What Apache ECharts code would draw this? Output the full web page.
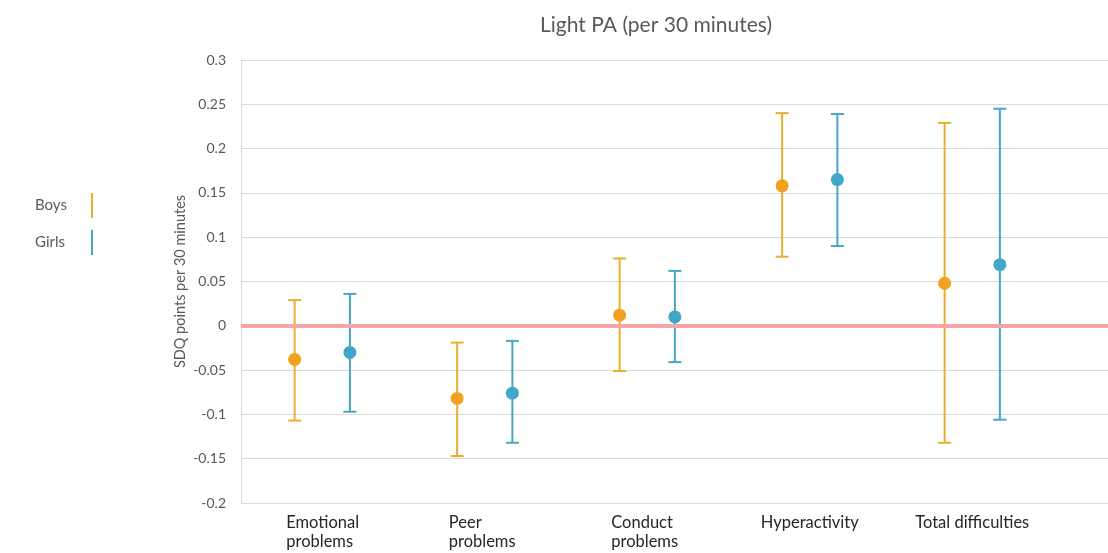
<!DOCTYPE html>
<html>
<head>
<meta charset="utf-8">
<script src="https://cdn.jsdelivr.net/npm/echarts@6/dist/echarts.min.js"></script>
<style>
  html, body { margin: 0; padding: 0; background: #fff; }
  #main { width: 1108px; height: 553px; }
</style>
</head>
<body>
<div id="main"></div>
<script>
// categories on the x axis (an empty slot is added after them, the plot runs past the picture edge)
var categories = ['Emotional\nproblems', 'Peer\nproblems', 'Conduct\nproblems', 'Hyperactivity', 'Total difficulties'];
var yTicks = [-0.2, -0.15, -0.1, -0.05, 0, 0.05, 0.1, 0.15, 0.2, 0.25, 0.3];

// estimates with 95% CI
var boysMean = [-0.038, -0.082, 0.012, 0.158, 0.048];
var boysLow  = [-0.107, -0.147, -0.051, 0.078, -0.132];
var boysHigh = [0.029, -0.019, 0.076, 0.240, 0.229];

var girlsMean = [-0.030, -0.076, 0.010, 0.165, 0.069];
var girlsLow  = [-0.097, -0.132, -0.041, 0.090, -0.106];
var girlsHigh = [0.036, -0.017, 0.062, 0.239, 0.245];

var FONT = 'Lato, "Open Sans", sans-serif';

function toData(mean, low, high) {
    var out = [];
    for (var i = 0; i < mean.length; i++) {
        out.push([i, mean[i], low[i], high[i]]);
    }
    return out;
}

// draws one whisker + dot, shifted inside the category band
function errorBar(shift, barColor, dotColor) {
    return function (params, api) {
        var band = api.size([1, 0])[0];
        var x = api.coord([api.value(0), 0])[0] + shift * band;
        var yMid = api.coord([api.value(0), api.value(1)])[1];
        var yLow = api.coord([api.value(0), api.value(2)])[1];
        var yHigh = api.coord([api.value(0), api.value(3)])[1];
        var cap = 6.5;
        var ls = { stroke: barColor, lineWidth: 2 };
        return {
            type: 'group',
            children: [
                { type: 'line', shape: { x1: x, y1: yHigh, x2: x, y2: yLow }, style: ls },
                { type: 'line', shape: { x1: x - cap, y1: yHigh, x2: x + cap, y2: yHigh }, style: ls },
                { type: 'line', shape: { x1: x - cap, y1: yLow, x2: x + cap, y2: yLow }, style: ls },
                { type: 'circle', shape: { cx: x, cy: yMid, r: 6.5 }, style: { fill: dotColor } }
            ]
        };
    };
}

// two-line labels: lines left aligned inside a centred block
function catLabel(v) {
    if (v.indexOf('\n') < 0) return v;
    var parts = v.split('\n');
    return '{l|' + parts[0] + '}\n{l|' + parts[1] + '}';
}

var myChart = echarts.init(document.getElementById('main'));

var option = {
    backgroundColor: '#fff',
    animation: false,
    title: {
        text: 'Light PA (per 30 minutes)',
        left: 651,
        textAlign: 'center',
        top: 10,
        textStyle: { fontFamily: FONT, fontSize: 21, fontWeight: 'normal', color: '#595959' }
    },
    legend: {
        data: ['Boys', 'Girls'],
        orient: 'vertical',
        left: 30,
        top: 188,
        align: 'right',
        icon: 'rect',
        itemWidth: 2,
        itemHeight: 25,
        itemGap: 12,
        formatter: function (name) { return '{t|' + name + '}'; },
        textStyle: {
            fontFamily: FONT, fontSize: 15, color: '#595959',
            rich: { t: { width: 51, align: 'left', fontFamily: FONT, fontSize: 15, color: '#595959' } }
        }
    },
    grid: {
        left: 241,
        top: 60,
        width: 975,
        bottom: 50,
        outerBoundsMode: 'none'
    },
    xAxis: {
        type: 'category',
        data: categories.concat(['']),
        boundaryGap: true,
        axisLine: { show: true, lineStyle: { color: '#d9d9d9', width: 1 } },
        axisTick: { show: false },
        axisLabel: {
            interval: 0,
            margin: 10,
            fontFamily: FONT,
            fontSize: 16.5,
            lineHeight: 19,
            color: '#262626',
            formatter: catLabel,
            rich: {
                l: { width: 72, align: 'left', fontFamily: FONT, fontSize: 16.5, lineHeight: 19, color: '#262626' }
            }
        }
    },
    yAxis: {
        type: 'value',
        min: yTicks[0],
        max: yTicks[yTicks.length - 1],
        interval: 0.05,
        name: 'SDQ points per 30 minutes',
        nameLocation: 'middle',
        nameGap: 53,
        nameMoveOverlap: false,
        nameTextStyle: { fontFamily: FONT, fontSize: 14.5, color: '#595959' },
        axisLine: { show: true, lineStyle: { color: '#d9d9d9', width: 1 } },
        axisTick: { show: false },
        axisLabel: {
            margin: 15,
            fontFamily: FONT,
            fontSize: 14,
            color: '#595959',
            formatter: function (v) { return String(Math.round(v * 100) / 100); }
        },
        splitLine: { lineStyle: { color: '#d9d9d9', width: 1 } }
    },
    series: [
        {
            // zero reference line, kept under the whiskers
            type: 'line',
            data: [],
            z: 1,
            silent: true,
            markLine: {
                silent: true,
                symbol: 'none',
                label: { show: false },
                lineStyle: { color: '#f4a6a6', width: 4, type: 'solid' },
                data: [{ yAxis: 0 }]
            }
        },
        {
            name: 'Boys',
            type: 'custom',
            z: 3,
            itemStyle: { color: '#e8ae2e' },
            renderItem: errorBar(-0.17, '#e8ae2e', '#f2a11f'),
            encode: { x: 0, y: [1, 2, 3] },
            data: toData(boysMean, boysLow, boysHigh)
        },
        {
            name: 'Girls',
            type: 'custom',
            z: 3,
            itemStyle: { color: '#4aa5c2' },
            renderItem: errorBar(0.17, '#4aa5c2', '#41a7c8'),
            encode: { x: 0, y: [1, 2, 3] },
            data: toData(girlsMean, girlsLow, girlsHigh)
        }
    ]
};

myChart.setOption(option);
</script>
</body>
</html>
